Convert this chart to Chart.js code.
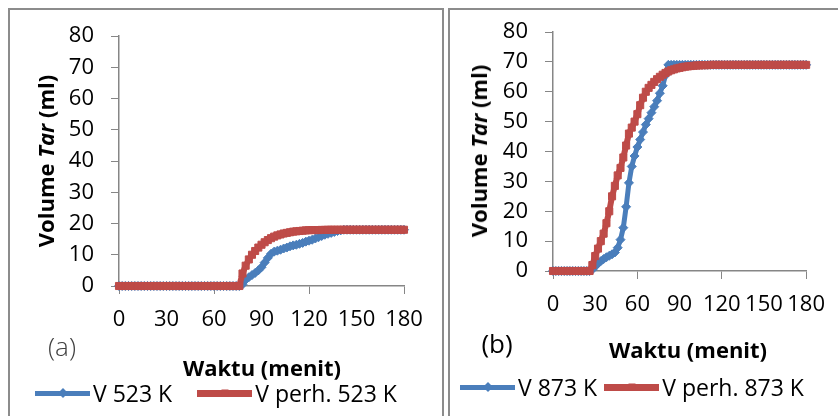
<!DOCTYPE html>
<html>
<head>
<meta charset="utf-8">
<script src="https://cdn.jsdelivr.net/npm/chart.js@4.4.1/dist/chart.umd.min.js"></script>
<style>
  body { margin: 0; width: 838px; height: 416px; overflow: hidden; background: #fff; font-family: "Open Sans", sans-serif; }
  .panel { position: absolute; border: 2px solid #8c8c8c; box-sizing: border-box; }
  canvas { position: absolute; top: 0; }
  .ytitle { position: absolute; font-weight: bold; font-size: 22px; white-space: nowrap; transform: translate(-50%, -50%) rotate(-90deg); }
  .xtitle { position: absolute; font-weight: bold; font-size: 22px; white-space: nowrap; transform: translate(-50%, -50%); }
  .tag { position: absolute; font-size: 26px; transform: translate(-50%, -50%); }
  .legend { position: absolute; display: flex; align-items: center; font-size: 23px; white-space: nowrap; transform: translateY(-50%); }
  .item { display: flex; align-items: center; flex-shrink: 0; }
  .swatch { position: relative; flex-shrink: 0; width: 55px; height: 5px; margin-right: 3px; }
  .mark { position: absolute; left: 50%; top: 50%; width: 7px; height: 7px; transform: translate(-50%, -50%); }
</style>
</head>
<body>
<div class="panel" style="left:8px; top:8px; width:436px; height:420px;"></div>
<div class="panel" style="left:448px; top:8px; width:400px; height:420px;"></div>

<canvas id="chartA" width="445" height="416" style="left:0; width:445px; height:416px;"></canvas>
<canvas id="chartB" width="393" height="416" style="left:445px; width:393px; height:416px;"></canvas>

<div class="ytitle" style="left:45px; top:161px;">Volume <i>Tar</i> (ml)</div>
<div class="ytitle" style="left:478px; top:151px;">Volume <i>Tar</i> (ml)</div>
<div class="xtitle" style="left:262px; top:367px;">Waktu (menit)</div>
<div class="xtitle" style="left:688px; top:349px;">Waktu (menit)</div>
<div class="tag" style="left:62px; top:346px; color:#404040; font-weight:300;">(a)</div>
<div class="tag" style="left:497px; top:343px;">(b)</div>
<div class="legend" id="legendA" style="left:35px; top:393px;"></div>
<div class="legend" id="legendB" style="left:460px; top:387px;"></div>

<script>
// waktu (menit)
var times = [
  0, 2, 4, 6, 8, 10, 12, 14, 16, 18, 20, 22, 24, 26, 28, 30, 32, 34, 36, 38,
  40, 42, 44, 46, 48, 50, 52, 54, 56, 58, 60, 62, 64, 66, 68, 70, 72, 74, 76, 78,
  80, 82, 84, 86, 88, 90, 92, 94, 96, 98, 100, 102, 104, 106, 108, 110, 112, 114, 116, 118,
  120, 122, 124, 126, 128, 130, 132, 134, 136, 138, 140, 142, 144, 146, 148, 150, 152, 154, 156, 158,
  160, 162, 164, 166, 168, 170, 172, 174, 176, 178, 180
];

var xTicks = [0, 30, 60, 90, 120, 150, 180];
var yTicks = [0, 10, 20, 30, 40, 50, 60, 70, 80];

// (a) 523 K
var v523 = [
  0, 0, 0, 0, 0, 0, 0, 0, 0, 0, 0, 0, 0, 0, 0, 0, 0, 0, 0, 0,
  0, 0, 0, 0, 0, 0, 0, 0, 0, 0, 0, 0, 0, 0, 0, 0, 0, 0, 0, 0.5,
  2, 2.8, 3.5, 4.2, 5, 6, 7.5, 9, 10.3, 11, 11.3, 11.6, 12, 12.3, 12.7, 13, 13.2, 13.5, 13.8, 14.2,
  14.5, 14.8, 15.2, 15.6, 16, 16.4, 16.7, 17, 17.3, 17.6, 17.8, 18, 18, 18, 18, 18, 18, 18, 18, 18,
  18, 18, 18, 18, 18, 18, 18, 18, 18, 18, 18
];
var vPerh523 = [
  0, 0, 0, 0, 0, 0, 0, 0, 0, 0, 0, 0, 0, 0, 0, 0, 0, 0, 0, 0,
  0, 0, 0, 0, 0, 0, 0, 0, 0, 0, 0, 0, 0, 0, 0, 0, 0, 0, 0, 4,
  6.5, 8.5, 10, 11.2, 12.3, 13.2, 14, 14.7, 15.3, 15.8, 16.2, 16.5, 16.8, 17, 17.2, 17.4, 17.5, 17.6, 17.7, 17.8,
  17.85, 17.9, 17.9, 17.9, 17.95, 17.95, 18, 18, 18, 18, 18, 18, 18, 18, 18, 18, 18, 18, 18, 18,
  18, 18, 18, 18, 18, 18, 18, 18, 18, 18, 18
];

// (b) 873 K
var v873 = [
  0, 0, 0, 0, 0, 0, 0, 0, 0, 0, 0, 0, 0, 0, 0.5, 1.5, 2.5, 3.3, 4, 4.6,
  5.1, 5.6, 6.2, 7.8, 10.5, 14.5, 21.5, 29.5, 35, 38.5, 41.5, 44, 46.5, 49, 51, 53, 55, 57, 59.5, 62,
  65.5, 69, 69, 69, 69, 69, 69, 69, 69, 69, 69, 69, 69, 69, 69, 69, 69, 69, 69, 69,
  69, 69, 69, 69, 69, 69, 69, 69, 69, 69, 69, 69, 69, 69, 69, 69, 69, 69, 69, 69,
  69, 69, 69, 69, 69, 69, 69, 69, 69, 69, 69
];
var vPerh873 = [
  0, 0, 0, 0, 0, 0, 0, 0, 0, 0, 0, 0, 0, 0, 2, 5, 7.5, 10, 12.5, 16,
  20, 25, 28.5, 32, 34.5, 38, 42, 46, 48, 50, 52.5, 55.5, 58, 60, 61.3, 62.3, 63.3, 64.2, 65, 65.7,
  66.3, 66.8, 67.2, 67.5, 67.8, 68, 68.2, 68.4, 68.5, 68.6, 68.7, 68.8, 68.8, 68.9, 68.9, 68.9, 69, 69, 69, 69,
  69, 69, 69, 69, 69, 69, 69, 69, 69, 69, 69, 69, 69, 69, 69, 69, 69, 69, 69, 69,
  69, 69, 69, 69, 69, 69, 69, 69, 69, 69, 69
];

var BLUE = '#4a7ebb';
var RED = '#be4b48';
var AXIS = '#868686';

function toXY(ys) {
  return times.map(function (t, i) { return { x: t, y: ys[i] }; });
}

function makeChart(id, legendId, blue, red, labels, yWidth, xHeight, padTop, padRight) {
  var datasets = [
    { label: labels[0], data: toXY(blue), borderColor: BLUE, backgroundColor: BLUE, clip: false,
      borderWidth: 5, pointStyle: 'rectRot', pointRadius: 4.5, pointBorderWidth: 1, order: 1 },
    { label: labels[1], data: toXY(red), borderColor: RED, backgroundColor: RED, clip: false,
      borderWidth: 6, pointStyle: 'rect', pointRadius: 5, pointBorderWidth: 1, order: 0 }
  ];

  new Chart(document.getElementById(id).getContext('2d'), {
    type: 'line',
    data: { datasets: datasets },
    options: {
      responsive: false,
      animation: false,
      layout: { padding: { left: 0, top: padTop, right: padRight, bottom: 0 } },
      plugins: { legend: { display: false }, tooltip: { enabled: false } },
      scales: {
        x: {
          type: 'linear', min: 0, max: 180,
          afterBuildTicks: function (scale) { scale.ticks = xTicks.map(function (v) { return { value: v }; }); },
          afterFit: function (scale) { scale.height = xHeight; },
          border: { color: AXIS, width: 1.5 },
          grid: { drawOnChartArea: false, tickLength: 8,
                  tickColor: function (ctx) { return ctx.tick && ctx.tick.value % 60 === 0 ? AXIS : 'rgba(0,0,0,0)'; } },
          ticks: { autoSkip: false, maxRotation: 0, padding: 13, color: '#000', font: { size: 22 } }
        },
        y: {
          min: 0, max: 80,
          afterBuildTicks: function (scale) { scale.ticks = yTicks.map(function (v) { return { value: v }; }); },
          afterFit: function (scale) { scale.width = yWidth; },
          border: { color: AXIS, width: 1.5 },
          grid: { drawOnChartArea: false, tickLength: 8, tickColor: AXIS },
          ticks: { padding: 17, color: '#000', font: { size: 22 } }
        }
      }
    }
  });

  // legend built from the dataset labels
  var box = document.getElementById(legendId);
  datasets.forEach(function (ds, i) {
    var item = document.createElement('div');
    item.className = 'item';
    item.style.marginRight = i === 0 ? box.dataset.gap : '0';
    var sw = document.createElement('div');
    sw.className = 'swatch';
    sw.style.background = ds.borderColor;
    sw.style.height = i === 0 ? '5px' : '7px';
    var mk = document.createElement('div');
    mk.className = 'mark';
    mk.style.background = ds.borderColor;
    if (ds.pointStyle === 'rectRot') mk.style.transform = 'translate(-50%, -50%) rotate(45deg)';
    sw.appendChild(mk);
    var tx = document.createElement('span');
    tx.textContent = ds.label;
    item.appendChild(sw);
    item.appendChild(tx);
    box.appendChild(item);
  });
}

Chart.defaults.font.family = '"Open Sans", sans-serif';

document.getElementById('legendA').dataset.gap = '25px';
document.getElementById('legendB').dataset.gap = '7px';

makeChart('chartA', 'legendA', v523, vPerh523, ['V 523 K', 'V perh. 523 K'], 119, 130, 36, 41);
makeChart('chartB', 'legendB', v873, vPerh873, ['V 873 K', 'V perh. 873 K'], 108, 145, 32, 26);
</script>
</body>
</html>
